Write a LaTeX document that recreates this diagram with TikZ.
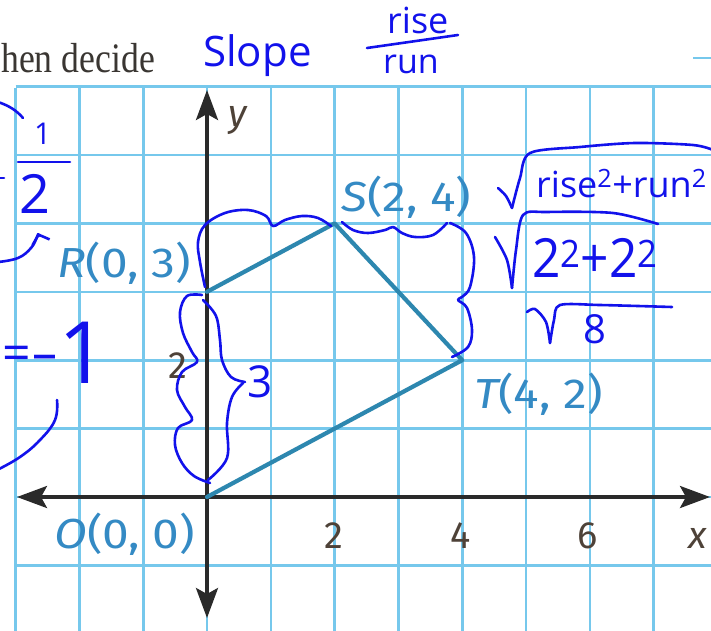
\documentclass[tikz,border=0pt]{standalone}
\usepackage{fontspec}
\setmainfont{Liberation Serif}
\newfontfamily\lab{Fira Sans}
\newfontfamily\hand{Open Sans}
\usetikzlibrary{arrows.meta}
\definecolor{gridc}{RGB}{118,200,236}
\definecolor{axisc}{RGB}{42,42,42}
\definecolor{tric}{RGB}{45,135,175}
\definecolor{labc}{RGB}{52,138,196}
\definecolor{tickc}{RGB}{78,66,56}
\definecolor{pen}{RGB}{18,18,235}
\definecolor{textc}{RGB}{58,54,50}
\tikzset{
  gridline/.style={gridc, line width=2.6pt},
  axisline/.style={axisc, line width=3.4pt,
     {Stealth[length=30pt,width=22pt,inset=6pt]}-{Stealth[length=30pt,width=22pt,inset=6pt]}},
  triline/.style={tric, line width=4.2pt, line cap=round, line join=round},
  ptlabel/.style={labc, inner sep=0pt, anchor=base west, font=\lab\fontsize{42}{42}\selectfont},
  ticklabel/.style={tickc, inner sep=0pt, anchor=base, font=\lab\fontsize{38}{38}\selectfont},
  penline/.style={pen, line width=2.6pt, line cap=round, line join=round},
  pentext/.style={pen, inner sep=0pt, anchor=base west},
}
\begin{document}
\begin{tikzpicture}[x=1pt,y=-1pt]
\useasboundingbox (0,0) rectangle (711,630);
\fill[white] (0,0) rectangle (711,630);
% grid
\foreach \k in {-3,...,7} \draw[gridline] ({207+63.8*\k},88) -- ({207+63.8*\k},632);
\foreach \j in {-1,...,6} \draw[gridline] (15.6,{497-68.4*\j}) -- (713,{497-68.4*\j});
\draw[gridc, line width=2pt] (693,58) -- (713,58);
% printed text
\node[textc, inner sep=0pt, anchor=base west, font=\fontsize{42}{42}\selectfont] (head) at (1,72) {\scalebox{0.85}[1]{hen decide}};
% axes
\coordinate (xl) at (17,497); \coordinate (xr) at (710,497);
\coordinate (yb) at (207,618); \coordinate (yt) at (207,90);
\draw[axisline] (xl) -- (xr);
\draw[axisline] (yb) -- (yt);
% points and triangle
\coordinate (O) at (207,497);
\coordinate (R) at (207,291.8);
\coordinate (S) at (334.6,223.4);
\coordinate (T) at (462.2,360.2);
\draw[triline] (R) -- (S) -- (T) -- (O);
% labels
\node[ptlabel] (Rl) at (57,277) {\scalebox{1.14}[1]{\itshape R\upshape(0, 3)}};
\node[ptlabel] (Sl) at (341,211) {\scalebox{1.14}[1]{\itshape S\upshape(2, 4)}};
\node[ptlabel] (Tl) at (474,408) {\scalebox{1.14}[1]{\itshape T\upshape(4, 2)}};
\node[ptlabel] (Ol) at (54,548) {\scalebox{1.14}[1]{\itshape O\upshape(0, 0)}};
\node[ticklabel] (t2) at (334,548) {2};
\node[ticklabel] (t4) at (461,548) {4};
\node[ticklabel] (t6) at (588,548) {6};
\node[ticklabel, font=\lab\itshape\fontsize{38}{38}\selectfont] (xlab) at (698,548) {x};
\node[ticklabel, font=\lab\itshape\fontsize{38}{38}\selectfont] (ylab) at (238,126) {y};
\node[ticklabel] (ty2) at (178,378) {2};
% handwriting: top
\node[pentext, font=\hand\fontsize{42}{42}\selectfont] (slope) at (203,66) {Slope};
\node[pentext, font=\hand\fontsize{36}{36}\selectfont] (rise) at (387,33) {rise};
\node[pentext, font=\hand\fontsize{34}{34}\selectfont] (run) at (383,73) {run};
\draw[penline] (367,48) -- (458,35);
% left margin
\draw[penline] (-2,102) .. controls (10,106) and (17,111) .. (23,118);
\node[pentext, font=\hand\fontsize{30}{30}\selectfont] (one) at (34,144) {1};
\draw[penline] (18,162) -- (70,162);
\node[pentext, font=\hand\fontsize{54}{54}\selectfont] (two) at (19,213) {2};
\draw[penline] (-3,178) -- (4,178);
\draw[penline, -{Straight Barb[length=8pt,width=18pt]}] plot[smooth, tension=0.7] coordinates {(-2,262) (18,258) (31,248) (37,237) (38,233)};
\node[pentext] (eq) at (2,383) {{\hand\fontsize{50}{50}\selectfont\raisebox{13pt}{=\kern2pt–}}\kern1pt{\hand\fontsize{86}{86}\selectfont 1}};
\draw[penline] plot[smooth, tension=0.7] coordinates {(57,400) (55,420) (40,440) (20,457) (-3,470)};
% braces
\draw[penline] plot[smooth, tension=0.6] coordinates {(205,287) (200,262) (198,242) (205,225) (225,213) (248,210) (266,216) (273,226) (285,220) (302,216) (318,218) (331,226)};
\draw[penline] plot[smooth, tension=0.6] coordinates {(342,222) (353,230) (368,233) (385,230) (393,227) (402,233) (415,237) (433,235) (447,223)};
\draw[penline] plot[smooth, tension=0.6] coordinates {(450,223) (466,233) (474,257) (470,287) (462,297) (458,300) (467,308) (472,330) (468,347) (452,357)};
\draw[penline] plot[smooth, tension=0.6] coordinates {(202,295) (187,296) (180,312) (183,333) (192,352) (197,362) (182,372) (177,390) (185,407) (192,420) (178,428) (175,445) (182,463) (194,476) (210,483)};
\draw[penline] plot[smooth, tension=0.6] coordinates {(203,300) (216,316) (220,340) (222,360) (231,377) (245,382)};
\draw[penline] plot[smooth, tension=0.6] coordinates {(243,383) (232,397) (227,423) (227,458) (208,480)};
\node[pentext, font=\hand\fontsize{44}{44}\selectfont] (three) at (247,397) {3};
% distance formula
\draw[penline] plot[smooth, tension=0.5] coordinates {(498,188) (506,196) (512,208)};
\draw[penline] plot[smooth, tension=0.5] coordinates {(512,208) (520,178) (530,153) (580,147) (635,143) (693,145) (713,150)};
\node[pentext, font=\hand\fontsize{36}{36}\selectfont] (f1) at (536,197) {rise\textsuperscript{2}+run\textsuperscript{2}};
\draw[penline] plot[smooth, tension=0.5] coordinates {(495,237) (507,260) (512,288)};
\draw[penline] plot[smooth, tension=0.5] coordinates {(512,288) (516,250) (523,215) (547,212) (613,213) (658,224)};
\node[pentext, font=\hand\fontsize{54}{54}\selectfont] (f2) at (532,277) {\scalebox{0.92}[1]{2\textsuperscript{2}+2\textsuperscript{2}}};
\draw[penline] plot[smooth, tension=0.5] coordinates {(527,312) (535,309) (546,322) (550,343)};
\draw[penline] plot[smooth, tension=0.5] coordinates {(550,343) (554,320) (560,305) (600,305) (672,307)};
\node[pentext, font=\hand\fontsize{40}{40}\selectfont] (f3) at (583,343) {8};
\end{tikzpicture}
\end{document}
